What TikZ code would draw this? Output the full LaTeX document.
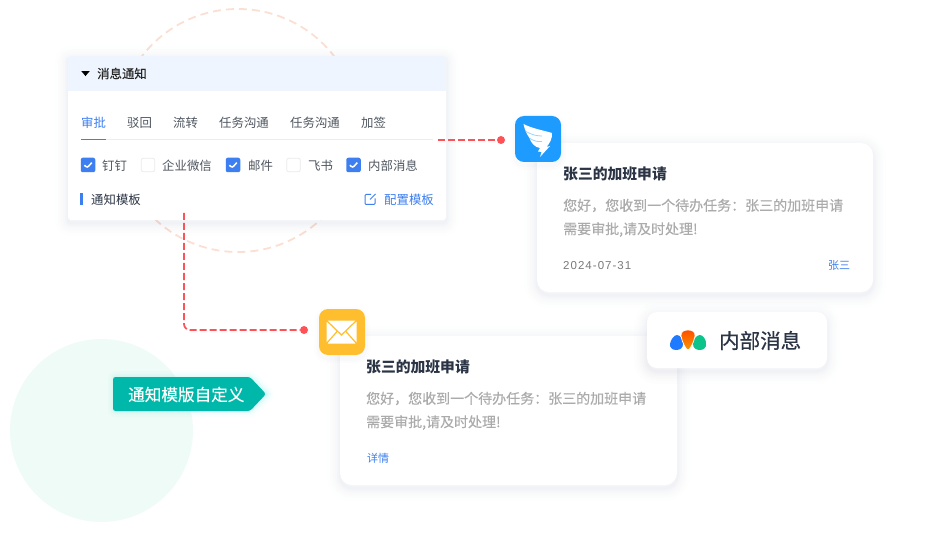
\documentclass[tikz,border=0pt]{standalone}
\usepackage{fontspec}
\setmainfont{Noto Sans CJK SC}
\newfontfamily\cjkmed[FakeBold=0.25]{Noto Sans CJK SC}
\newfontfamily\cjkheavy[FakeBold=0.6]{Noto Sans CJK SC}
\newfontfamily\datefont[LetterSpace=9]{Liberation Sans}
\usetikzlibrary{shapes.geometric}
\definecolor{inkdark}{HTML}{2B3545}
\definecolor{inkgray}{HTML}{4F5660}
\definecolor{bodygray}{HTML}{ABABAB}
\definecolor{linkblue}{HTML}{3D7FF0}
\definecolor{dashred}{HTML}{FF5257}
\definecolor{shadowc}{HTML}{3A4A78}
\definecolor{headblue}{HTML}{EFF5FE}
\definecolor{discgreen}{HTML}{EFFBF6}
\definecolor{ringpeach}{HTML}{FCDFD3}
\definecolor{dingblue}{HTML}{1E9BFF}
\definecolor{mailyellow}{HTML}{FFBE2E}
\definecolor{tagteal}{HTML}{00B8A9}
\definecolor{tagglow}{HTML}{3FE6D8}
\definecolor{petalblue}{HTML}{1E7BFF}
\definecolor{petalgreen}{HTML}{0CC48A}
\definecolor{petaltop}{HTML}{FF4D00}
\definecolor{petalend}{HTML}{F59A00}
\tikzset{%
    shadowring/.style 2 args={preaction={draw=shadowc,line width=#1,draw opacity=#2,transform canvas={yshift=-3pt}}},
    softshadow/.style={shadowring={26pt}{.006},shadowring={20pt}{.008},shadowring={15pt}{.010},shadowring={10pt}{.012},shadowring={6pt}{.014},shadowring={3pt}{.016}},
    cardbox/.style={softshadow,rectangle,rounded corners=12pt,fill=white,inner sep=0pt},
    panelbox/.style={softshadow,rectangle,rounded corners=3pt,fill=white,inner sep=0pt},
    txt/.style={anchor=west,inner sep=0pt,font=\fontsize{12.4}{14}\selectfont,text=inkgray},
    cardtitle/.style={txt,font=\fontsize{14.8}{16}\selectfont\bfseries,text=inkdark},
    cardbody/.style={txt,font=\fontsize{14}{16}\selectfont\cjkmed,text=bodygray},
    cardlink/.style={txt,font=\fontsize{11}{13}\selectfont,text=linkblue},
    dotnode/.style={circle,fill=dashred,inner sep=0pt,minimum size=8pt},
    dashline/.style={dashred,line width=1.7pt,dash pattern=on 7pt off 3pt,rounded corners=6pt},
    checkoff/.style={rectangle,rounded corners=2pt,draw=black!8,line width=.8pt,fill=white,inner sep=0pt,minimum size=13.5pt},
    checkon/.style={rectangle,rounded corners=2pt,fill=linkblue,inner sep=0pt,minimum size=14.5pt,
        path picture={\draw[white,line width=1.5pt] ([shift={(-3.6,0.2)}]path picture bounding box.center) -- ([shift={(-0.8,2.8)}]path picture bounding box.center) -- ([shift={(3.8,-2.4)}]path picture bounding box.center);}},
    appicon/.style={rectangle,rounded corners=9pt,inner sep=0pt,minimum size=46pt,shadowring={10pt}{.012},shadowring={5pt}{.016}}
}
\begin{document}
\begin{tikzpicture}[x=1pt,y=-1pt]
        \useasboundingbox (0,0) rectangle (940,540);
        % background circles
        \node[circle,fill=discgreen,inner sep=0pt,minimum size=183pt] (greendisc) at (101.5,430.5){};
        \node[circle,draw=ringpeach,line width=1.8pt,dash pattern=on 8pt off 5pt,inner sep=0pt,minimum size=243pt] (ring) at (238,130.5){};

        % settings panel
        \node[panelbox,minimum width=378pt,minimum height=164pt] (panel) at (257,138){};
        \fill[headblue,rounded corners=3pt] (68,91) [sharp corners] -- (446,91) [rounded corners=3pt] -- (446,56) -- (68,56) [sharp corners] -- cycle;
        \node[isosceles triangle,isosceles triangle apex angle=80,shape border rotate=-90,fill=black,inner sep=0pt,minimum height=4.5pt,minimum width=8.5pt] (caret) at (85.5,73){};
        \node[txt,font=\fontsize{12.4}{14}\selectfont\cjkmed,text=black!85] (headtxt) at (97,73.5) {消息通知};

        \node[txt,text=linkblue] (tab1) at (81,122.5) {审批};
        \node[txt] (tab2) at (127,122.5) {驳回};
        \node[txt] (tab3) at (173,122.5) {流转};
        \node[txt] (tab4) at (219,122.5) {任务沟通};
        \node[txt] (tab5) at (290,122.5) {任务沟通};
        \node[txt] (tab6) at (361,122.5) {加签};
        \coordinate (tabline) at (433,139.5);
        \coordinate (tabstart) at (81,139.5);
        \coordinate (tabend) at (106,139.5);
        \draw[black!7,line width=1.5pt] (tabstart) -- (tabline);
        \draw[linkblue,line width=1.5pt] (tabstart) -- (tabend);

        \node[checkon] (cb1) at (88,165){};
        \node[txt] (cbt1) at (102,165.5) {钉钉};
        \node[checkoff] (cb2) at (148,165){};
        \node[txt] (cbt2) at (162,165.5) {企业微信};
        \node[checkon] (cb3) at (233,165){};
        \node[txt] (cbt3) at (248,165.5) {邮件};
        \node[checkoff] (cb4) at (293.5,165){};
        \node[txt] (cbt4) at (308,165.5) {飞书};
        \node[checkon] (cb5) at (353.5,165){};
        \node[txt] (cbt5) at (368,165.5) {内部消息};

        \node[rectangle,fill=linkblue,inner sep=0pt,minimum width=2.5pt,minimum height=12pt] (bar) at (81.5,199){};
        \node[txt,text=inkdark] (tpl) at (91,199.5) {通知模板};
        \node[txt,text=linkblue] (cfg) at (384,199.5) {配置模板};
        % edit icon
        \draw[linkblue,line width=1pt,rounded corners=1pt] (371,194.5) -- (365,194.5) -- (365,204.5) -- (375,204.5) -- (375,198.5);
        \draw[linkblue,line width=1pt] (370,199.5) -- (375.5,194);

        % dingtalk card
        \node[cardbox,minimum width=336pt,minimum height=149pt] (carda) at (705,217.5){};
        \node[appicon,fill=dingblue] (dingicon) at (538,139){};
        \fill[white] (523.5,124) .. controls (532,128.5) and (544,130.5) .. (552,133) .. controls (552.5,138) and (550,143) .. (546.5,147) -- (550,146) -- (540,157) -- (541.5,152) -- (538,151.5) -- (540,148) .. controls (535,147.5) and (531,143) .. (529.5,138) .. controls (526.5,134) and (524.5,129) .. (523.5,124) -- cycle;
        \draw[dingblue!45,line width=.8pt] (526,131.5) .. controls (532,135) and (537,136) .. (542,136);
        \draw[dingblue!45,line width=.8pt] (530,138.5) .. controls (534,141) and (538,142) .. (542,141.5);
        \node[cardtitle] (atitle) at (563,174) {张三的加班申请};
        \node[cardbody] (abody1) at (563,205.5) {您好，您收到一个待办任务：张三的加班申请};
        \node[cardbody] (abody2) at (563,229.5) {需要审批,请及时处理!};
        \node[txt,font=\fontsize{11.5}{13}\selectfont\datefont,text=black!52] (adate) at (563,265.5) {2024-07-31};
        \node[cardlink] (aname) at (828,265.5) {张三};

        % mail card
        \node[cardbox,minimum width=337pt,minimum height=149pt] (cardb) at (508.5,410.5){};
        \node[appicon,fill=mailyellow] (mailicon) at (342,332){};
        \node[rectangle,rounded corners=1.5pt,fill=white,inner sep=0pt,minimum width=30pt,minimum height=23pt] (envelope) at (341.5,332){};
        \draw[mailyellow,line width=1.2pt] (envelope.north west) -- ([yshift=-3pt]envelope.center) -- (envelope.north east);
        \draw[mailyellow,line width=1.2pt] (envelope.south west) -- ([shift={(-4,-1)}]envelope.center);
        \draw[mailyellow,line width=1.2pt] (envelope.south east) -- ([shift={(4,-1)}]envelope.center);
        \node[cardtitle] (btitle) at (366,367) {张三的加班申请};
        \node[cardbody] (bbody1) at (366,398.5) {您好，您收到一个待办任务：张三的加班申请};
        \node[cardbody] (bbody2) at (366,422.5) {需要审批,请及时处理!};
        \node[cardlink] (blink) at (367,458.5) {详情};

        % inner message badge
        \node[cardbox,rounded corners=10pt,minimum width=180pt,minimum height=56pt] (badge) at (737,340){};
        \fill[petalblue] (677,335) .. controls (680.5,335) and (683,340) .. (683,344) .. controls (683,348) and (680,350) .. (676,350) .. controls (672,350) and (669.5,347) .. (670,344) .. controls (670.5,340) and (674,335) .. (677,335) -- cycle;
        \fill[petalgreen] (700,335) .. controls (703,335) and (706.5,340) .. (706,344) .. controls (706.5,347) and (704,350) .. (700,350) .. controls (696,350) and (693,348) .. (693,344) .. controls (693,340) and (696,335) .. (700,335) -- cycle;
        \shade[draw=white,line width=.7pt,top color=petaltop,bottom color=petalend] (688,330) .. controls (692,330) and (695.5,331.5) .. (695,336) .. controls (694,342) and (690,350) .. (688,350) .. controls (686,350) and (682,342) .. (681,336) .. controls (680.5,331.5) and (684,330) .. (688,330) -- cycle;
        \node[txt,font=\fontsize{20.5}{22}\selectfont\cjkheavy,text=inkdark] (badgetxt) at (719,340.5) {内部消息};

        % connectors
        \coordinate (panelout) at (438,140);
        \coordinate (paneldown) at (184,213);
        \node[dotnode] (dota) at (501,140){};
        \node[dotnode] (dotb) at (304,330){};
        \draw[dashline] (panelout) -- (dota);
        \draw[dashline] (paneldown) |- (dotb);

        % teal tag
        \foreach \w/\o in {16pt/.03,11pt/.05,7pt/.07,3pt/.09}{
            \draw[tagglow,line width=\w,opacity=\o,line join=round] (116,379) -- (250,379) -- (266,394) -- (250,409) -- (116,409) -- cycle;
        }
        \fill[tagteal,rounded corners=2.5pt] (113,377) -- (250,377) -- (266,394) -- (250,411) -- (113,411) -- cycle;
        \node[txt,font=\fontsize{16.6}{18}\selectfont\cjkmed,text=white] (tagtxt) at (128,394.5) {通知模版自定义};
    \end{tikzpicture}
\end{document}
